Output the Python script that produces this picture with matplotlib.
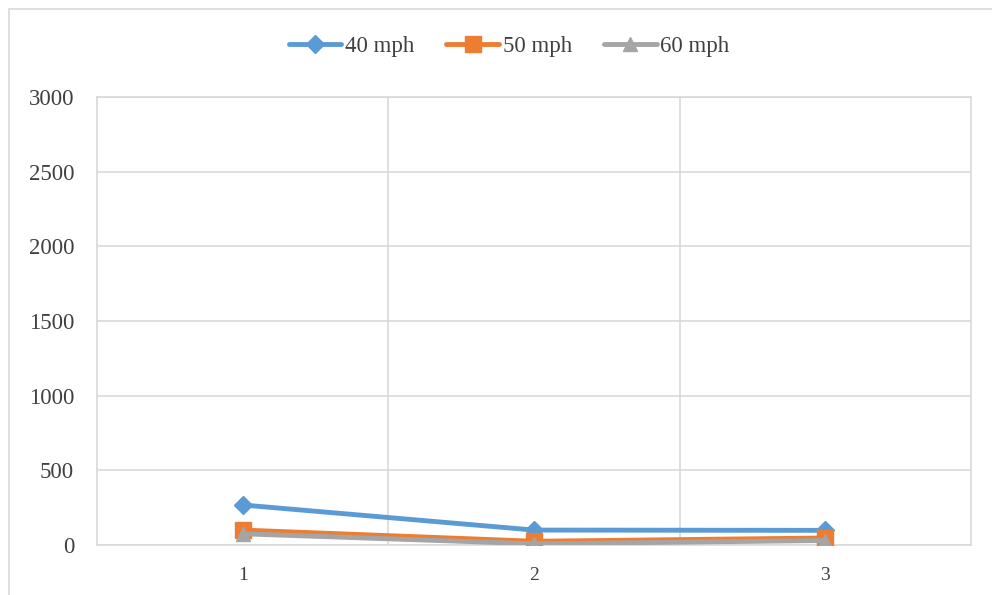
import matplotlib
matplotlib.use("Agg")
from matplotlib import pyplot as plt
from matplotlib.patches import Rectangle

plt.rcParams['font.family'] = ['Liberation Serif', 'DejaVu Serif']

# data
categories = [1, 2, 3]
series_names = ['40 mph', '50 mph', '60 mph']
speed_40 = [268, 100, 98]
speed_50 = [100, 25, 47]
speed_60 = [75, 8, 30]
y_ticks = [0, 500, 1000, 1500, 2000, 2500, 3000]

colors = ['#5b9bd5', '#ed7d31', '#a5a5a5']
markers = ['D', 's', '^']
msizes = [9, 11, 10]

W, H = 992, 595
fig = plt.figure(figsize=(W / 100, H / 100), dpi=100)

# outer chart frame (left and top edges visible)
fig.patches.append(Rectangle((9 / W, -0.1), 1.2, 1 - 9 / H + 0.1, transform=fig.transFigure,
                             fill=False, edgecolor='#d9d9d9', linewidth=1.2))

ax = fig.add_axes([97 / W, 1 - 545 / H, (971 - 97) / W, (545 - 97) / H])

for vals, name, c, m, ms in zip([speed_40, speed_50, speed_60], series_names, colors, markers, msizes):
    ax.plot(categories, vals, color=c, linewidth=3.5, marker=m, markersize=ms,
            markeredgecolor=c, label=name, solid_capstyle='round', zorder=3)

ax.set_xlim(0.5, 3.5)
ax.set_ylim(0, 3000)
ax.set_yticks(y_ticks)
ax.set_xticks(categories)
ax.set_xticks([1.5, 2.5], minor=True)

ax.grid(axis='y', which='major', color='#d9d9d9', linewidth=1.2)
ax.grid(axis='x', which='minor', color='#d9d9d9', linewidth=1.2)
ax.set_axisbelow(True)
for s in ax.spines.values():
    s.set_color('#d9d9d9')
    s.set_linewidth(1.2)

ax.tick_params(axis='y', length=0, labelsize=16.5, labelcolor='#404040', pad=16.5)
ax.tick_params(axis='x', which='both', length=0, labelsize=14, labelcolor='#404040', pad=16)

leg = fig.legend(loc='center', bbox_to_anchor=(509 / W, 1 - 46 / H), ncol=3, frameon=False,
                 fontsize=16.5, handlelength=2.3, handletextpad=0.15, columnspacing=1.4)
for t in leg.get_texts():
    t.set_color('#404040')

fig.savefig('out.png', dpi=100)
